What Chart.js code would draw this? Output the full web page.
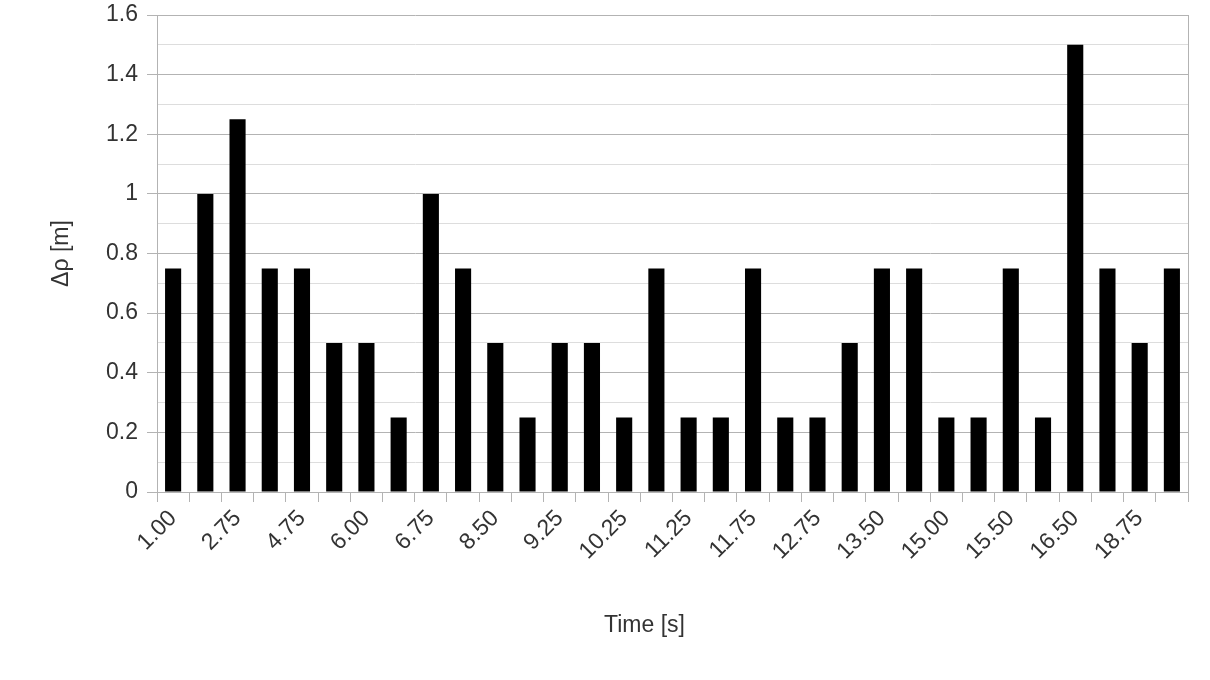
<!DOCTYPE html>
<html>
<head>
    <meta charset="utf-8">
    <script src="https://cdn.jsdelivr.net/npm/chart.js@4/dist/chart.umd.min.js"></script>
    <style>
        html, body { margin: 0; padding: 0; background: #fff; }
        #wrap { width: 1210px; height: 680px; }
    </style>
</head>
<body>
<div id="wrap"><canvas id="myChart" width="1210" height="680"></canvas></div>

<script>
    // time categories (only every other one is labelled in the original)
    var times = ["1.00", "2.25", "2.75", "4.00", "4.75", "5.50", "6.00", "6.50",
                 "6.75", "7.75", "8.50", "9.00", "9.25", "9.75", "10.25", "10.75",
                 "11.25", "11.50", "11.75", "12.25", "12.75", "13.25", "13.50", "14.25",
                 "15.00", "15.25", "15.50", "16.00", "16.50", "17.50", "18.75", "19.50"];
    var deltaRho = [0.75, 1.0, 1.25, 0.75, 0.75, 0.5, 0.5, 0.25,
                    1.0, 0.75, 0.5, 0.25, 0.5, 0.5, 0.25, 0.75,
                    0.25, 0.25, 0.75, 0.25, 0.25, 0.5, 0.75, 0.75,
                    0.25, 0.25, 0.75, 0.25, 1.5, 0.75, 0.5, 0.75];
    var yMax = 1.6;
    var yStep = 0.1;
    var xTitle = "Time [s]";
    var yTitle = "Δρ [m]";

    var font = "'Liberation Sans', Arial, sans-serif";
    var fontSize = 23;
    var textColor = "#333333";

    function isMajor(v) {
        return Math.abs(Math.round(v * 10) % 2) === 0;
    }

    // right-hand frame line and the x axis title (which sits left of centre in the original)
    var extras = {
        id: 'extras',
        afterDraw: function (chart) {
            var a = chart.chartArea;
            var c = chart.ctx;
            c.save();
            c.strokeStyle = "#b3b3b3";
            c.lineWidth = 1;
            c.beginPath();
            c.moveTo(Math.round(a.right) + 0.5, a.top);
            c.lineTo(Math.round(a.right) + 0.5, a.bottom + 10);
            c.stroke();

            c.fillStyle = textColor;
            c.font = fontSize + "px " + font;
            c.textAlign = "center";
            c.textBaseline = "middle";
            c.fillText(xTitle, a.left + (a.right - a.left) / 2 - 28, a.bottom + 134);
            c.restore();
        }
    };

    var ctx = document.getElementById("myChart");
    var myChart = new Chart(ctx, {
        type: 'bar',
        data: {
            labels: times,
            datasets: [{
                data: deltaRho,
                backgroundColor: "#000000",
                borderWidth: 0,
                barPercentage: 0.5,
                categoryPercentage: 1.0
            }]
        },
        plugins: [extras],
        options: {
            responsive: false,
            animation: false,
            layout: {
                padding: { left: 48, right: 22, top: 15, bottom: 40 }
            },
            plugins: {
                legend: { display: false },
                tooltip: { enabled: false }
            },
            scales: {
                x: {
                    offset: true,
                    grid: {
                        offset: true,
                        drawOnChartArea: false,
                        drawTicks: true,
                        tickLength: 10,
                        color: "#b3b3b3"
                    },
                    border: { color: "#b3b3b3" },
                    ticks: {
                        autoSkip: false,
                        minRotation: 45,
                        maxRotation: 45,
                        padding: 3,
                        color: textColor,
                        font: { family: font, size: fontSize },
                        callback: function (v, i) {
                            return i % 2 === 0 ? times[i] : "";
                        }
                    },
                    afterFit: function (scale) {
                        scale.height = 148;
                        scale.paddingLeft = 0;
                        scale.paddingRight = 0;
                    }
                },
                y: {
                    min: 0,
                    max: yMax,
                    ticks: {
                        stepSize: yStep,
                        autoSkip: false,
                        padding: 9,
                        color: textColor,
                        font: { family: font, size: fontSize },
                        callback: function (v) {
                            if (!isMajor(v)) return "";
                            return String(parseFloat(v.toFixed(1)));
                        }
                    },
                    grid: {
                        tickLength: 10,
                        color: function (c) {
                            return isMajor(c.tick.value) ? "#b3b3b3" : "#dddddd";
                        },
                        tickColor: function (c) {
                            return isMajor(c.tick.value) ? "#b3b3b3" : "rgba(0,0,0,0)";
                        }
                    },
                    border: { color: "#b3b3b3" },
                    title: {
                        display: true,
                        text: yTitle,
                        color: textColor,
                        font: { family: font, size: fontSize },
                        padding: { top: 0, bottom: 10 }
                    },
                    afterFit: function (scale) {
                        scale.width = 109;
                        scale.paddingTop = 0;
                        scale.paddingBottom = 0;
                    }
                }
            }
        }
    });
</script>
</body>
</html>
